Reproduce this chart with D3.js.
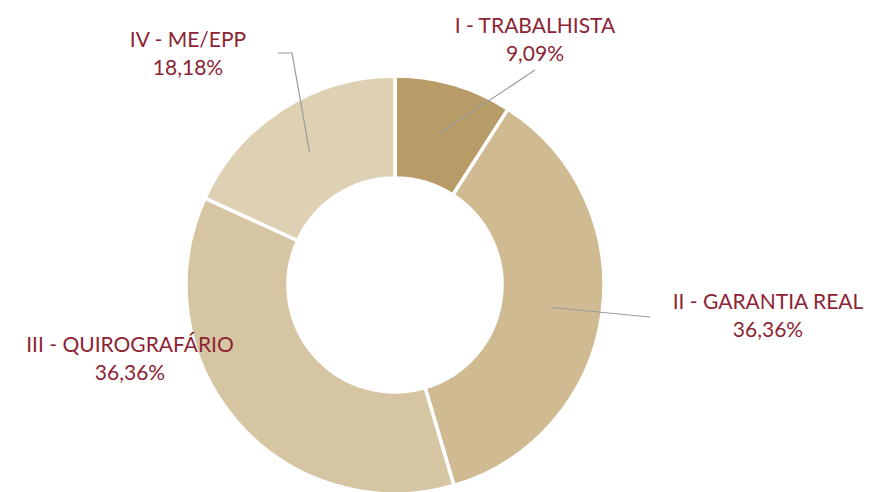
<!DOCTYPE html>
<html>
<head>
<meta charset="utf-8">
<script src="https://cdn.jsdelivr.net/npm/d3@7"></script>
<style>
  body { margin: 0; background: #fff; }
  text { font-family: Lato, "Noto Sans", sans-serif; }
</style>
</head>
<body>
<div id="container"></div>
<script>
/* DATA */
const classes = ["I - TRABALHISTA", "II - GARANTIA REAL", "III - QUIROGRAFÁRIO", "IV - ME/EPP"]
const shares = [9.09, 36.36, 36.36, 18.18]
const colors = ["#b89c68", "#cfba92", "#d6c5a2", "#ddd0b3"]

/* CONSTANTS AND GLOBALS */
const width = 869,
  height = 492,
  cx = 395, cy = 285,
  outerR = 209, innerR = 107,
  leaderR = 158

// label anchor (centre / first baseline of text block) and end of the leader line, per slice
const labelPos = [
  { x: 535, y: 33, line: [[535, 70]] },
  { x: 768, y: 309, line: [[650, 317]] },
  { x: 130, y: 352, line: null },
  { x: 188, y: 47, line: [[292, 53], [278, 53]] }
]

const formatPct = v => d3.format(".2f")(v).replace(".", ",") + "%"

const data = classes.map((c, i) => ({ name: c, value: shares[i], color: colors[i] }))

const svg = d3.select("#container")
  .append("svg")
  .attr("width", width)
  .attr("height", height)

const g = svg.append("g")
  .attr("transform", `translate(${cx}, ${cy})`)

const pie = d3.pie()
  .sort(null)
  .value(d => d.value)

const arc = d3.arc()
  .innerRadius(innerR)
  .outerRadius(outerR)

const leaderArc = d3.arc()
  .innerRadius(leaderR)
  .outerRadius(leaderR)

const arcs = pie(data)

// DRAW SLICES
g.selectAll(".slice")
  .data(arcs)
  .join("path")
  .attr("class", "slice")
  .attr("d", arc)
  .attr("fill", d => d.data.color)
  .attr("stroke", "#fff")
  .attr("stroke-width", 3.5)

// LEADER LINES
const lineGen = d3.line()
arcs.forEach((d, i) => {
  const lp = labelPos[i]
  if (!lp.line) return
  const [sx, sy] = leaderArc.centroid(d)
  const pts = [[sx + cx, sy + cy]].concat(lp.line)
  svg.append("path")
    .attr("d", lineGen(pts))
    .attr("fill", "none")
    .attr("stroke", "#9a9a9a")
    .attr("stroke-width", 1.2)
})

// LABELS
const labels = svg.selectAll(".label")
  .data(arcs)
  .join("text")
  .attr("class", "label")
  .attr("text-anchor", "middle")
  .attr("fill", "#8c2434")
  .style("font-size", "21px")

labels.append("tspan")
  .attr("x", (d, i) => labelPos[i].x)
  .attr("y", (d, i) => labelPos[i].y)
  .text(d => d.data.name)

labels.append("tspan")
  .attr("x", (d, i) => labelPos[i].x)
  .attr("y", (d, i) => labelPos[i].y + 27.5)
  .text(d => formatPct(d.data.value))
</script>
</body>
</html>
